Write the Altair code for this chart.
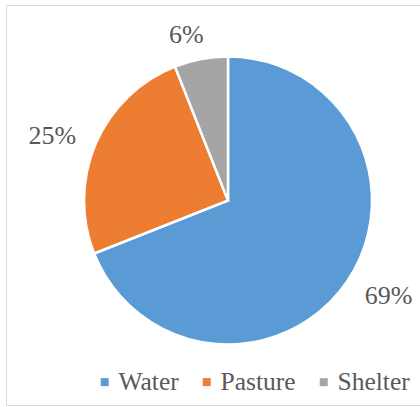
import altair as alt
import pandas as pd

categories = ["Water", "Pasture", "Shelter"]
values = [69, 25, 6]
labels = ["69%", "25%", "6%"]
colors = ["#5B9BD5", "#ED7D31", "#A5A5A5"]

df = pd.DataFrame({
    "category": categories,
    "value": values,
    "label": labels,
    "idx": list(range(len(categories))),
})

FONT = "Liberation Serif"
TXT = "#595959"
CX, CY = 222, 195.5

base = alt.Chart(df).encode(
    theta=alt.Theta("value:Q", stack=True),
    order=alt.Order("idx:Q"),
)

arc = base.mark_arc(outerRadius=144, stroke="white", strokeWidth=2.5).encode(
    x=alt.value(CX),
    y=alt.value(CY),
    color=alt.Color(
        "category:N",
        scale=alt.Scale(domain=categories, range=colors),
        sort=categories,
        legend=alt.Legend(
            title=None,
            orient="none",
            direction="horizontal",
            legendX=86,
            legendY=364,
            symbolType="square",
            symbolSize=64,
            symbolStrokeWidth=0,
            labelFont=FONT,
            labelFontSize=25.5,
            labelColor=TXT,
            labelOffset=1,
            columnPadding=15,
            padding=0,
        ),
    ),
)

text = base.mark_text(font=FONT, fontSize=26, color=TXT, thetaOffset=-0.058).encode(
    x=alt.value(CX),
    y=alt.value(CY),
    radius=alt.Radius(
        "value:Q",
        scale=alt.Scale(type="linear", domain=[6, 25], range=[171, 187], clamp=True, zero=False),
    ),
    text="label:N",
)

chart = (
    alt.layer(arc, text)
    .properties(
        width=414,
        height=400,
        padding={"left": 6, "top": 5, "right": 0, "bottom": 2},
        autosize=alt.AutoSizeParams(type="none"),
        background="white",
    )
    .configure_view(stroke="#D9D9D9", strokeWidth=1)
)

chart.save("out.html", embed_options={"renderer": "svg", "actions": False})
